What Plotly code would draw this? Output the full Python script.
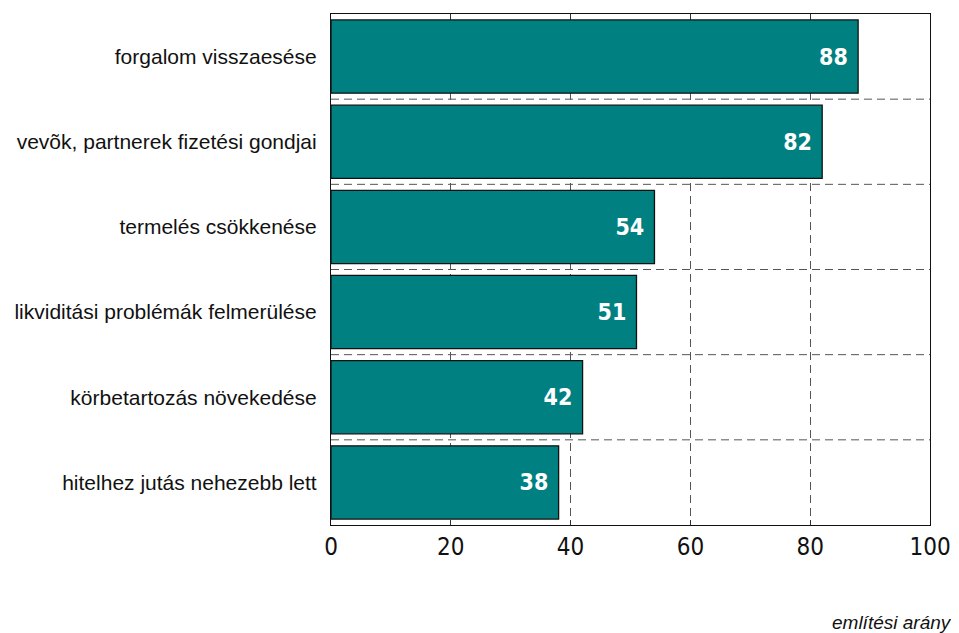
import plotly.graph_objects as go

categories = [
    "forgalom visszaesése",
    "vevõk, partnerek fizetési gondjai",
    "termelés csökkenése",
    "likviditási problémák felmerülése",
    "körbetartozás növekedése",
    "hitelhez jutás nehezebb lett",
]
values = [88, 82, 54, 51, 42, 38]
x_ticks = [0, 20, 40, 60, 80, 100]

NARROW = "Liberation Sans Narrow, Arial Narrow, DejaVu Sans Condensed, Liberation Sans, sans-serif"
REG = "Liberation Sans, Arial, sans-serif"

fig = go.Figure()
fig.add_trace(go.Bar(
    y=categories, x=values, orientation="h",
    marker=dict(color="#008080", line=dict(color="#111111", width=1.3)),
    text=[f"{v}\u00a0" for v in values], textposition="inside", insidetextanchor="end",
    textfont=dict(family=NARROW, size=23, color="white", weight="bold"),
    cliponaxis=False,
))

shapes = []
for i in range(len(categories) - 1):
    shapes.append(dict(type="line", xref="paper", yref="y", x0=0, x1=1,
                       y0=i + 0.5, y1=i + 0.5, layer="below",
                       line=dict(color="#555555", width=1, dash="8px,5px")))

fig.update_layout(
    width=951, height=625,
    margin=dict(l=323, r=29, t=6, b=108),
    plot_bgcolor="white", paper_bgcolor="white",
    bargap=0.14, showlegend=False, shapes=shapes,
    xaxis=dict(range=[0, 100], tickvals=x_ticks, ticks="inside", ticklen=5,
               tickcolor="#333333", showline=True, linecolor="#111111", linewidth=1.2,
               mirror="ticks", showgrid=True, gridcolor="#555555", griddash="8px,5px",
               gridwidth=1, zeroline=False,
               tickfont=dict(family=NARROW, size=24, color="#111111")),
    yaxis=dict(autorange="reversed", showline=True, linecolor="#111111", linewidth=1.2,
               mirror=True, ticks="", showgrid=False,
               tickfont=dict(family=REG, size=21, color="#111111"), ticklabelstandoff=9),
    annotations=[dict(text="említési arány", xref="paper", yref="paper",
                      x=1.04, y=-0.19, xanchor="right", yanchor="middle", showarrow=False,
                      font=dict(family=REG, size=19, color="#111111", style="italic"))],
)
fig.write_html("out.html")
